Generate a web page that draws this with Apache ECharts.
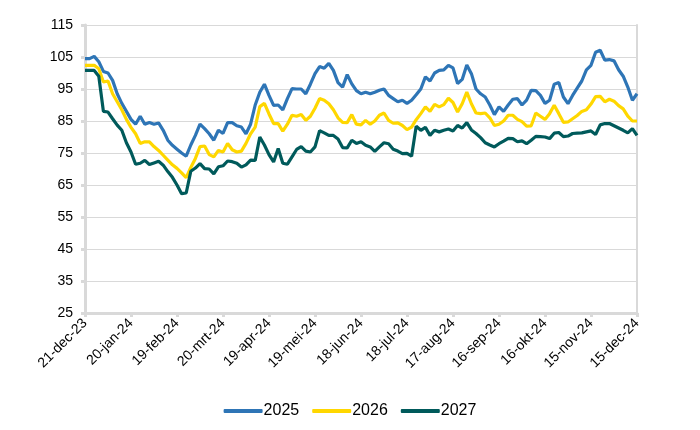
<!DOCTYPE html>
<html>
<head>
<meta charset="utf-8">
<script src="https://cdn.jsdelivr.net/npm/echarts@6/dist/echarts.min.js"></script>
<style>
html,body{margin:0;padding:0;background:#fff;}
#chart{width:700px;height:430px;}
</style>
</head>
<body>
<div id="chart"></div>
<script>
// Day offsets from 21-dec-2023 (sampling grid, every 3 days)
const startDate = Date.UTC(2023, 11, 21);
const dayOffsets = Array.from({length: 121}, (_, i) => i * 3);
const monthNames = ['jan','feb','mrt','apr','mei','jun','jul','aug','sep','okt','nov','dec'];
const seriesNames = ['2025', '2026', '2027'];

const values2025 = [
  104.5, 104.5, 105.2, 103.5, 100.5, 100, 97.7, 93.5, 90.5, 88,
  85.5, 84, 86.5, 84, 84.5, 84, 84.4, 82.1, 79, 77.4,
  76.2, 75, 74, 77.5, 80.5, 84, 82.6, 81, 79, 82.1,
  81.1, 84.5, 84.5, 83.5, 83.1, 81, 84, 90, 94, 96.5,
  93, 89.9, 90, 88.5, 92, 95.1, 95, 95, 93.5, 96.5,
  99.8, 102, 101.5, 103, 100.8, 97, 95.6, 99.5, 96.6, 94.5,
  93.5, 94, 93.5, 94, 94.6, 95, 93, 92, 91, 91.5,
  90.5, 91.5, 93.2, 95, 98.8, 97.5, 100, 100.8, 101, 102.4,
  101.6, 96.7, 98, 102.5, 99.8, 95, 93.5, 92.5, 90, 87,
  89.4, 88, 90, 91.8, 92, 90, 91.5, 94.6, 94.5, 93,
  90.5, 91.5, 96.5, 97, 92.5, 90.4, 93, 95.3, 97.5, 101,
  102.4, 106.5, 107.1, 104, 104.2, 103.8, 101, 99, 95.6, 91.5,
  93.5
];
const values2026 = [
  102.4, 102.4, 102.4, 101.3, 97.2, 97.5, 93.5, 91, 88.5, 85.5,
  83, 81, 78, 78.5, 78.5, 77, 75.8, 74.3, 72.8, 71.3,
  70.2, 68.8, 67.3, 70.5, 73.3, 77, 77.2, 74.5, 73.8, 75.8,
  75.3, 78, 76, 75.3, 75.6, 78, 81, 83.1, 89.5, 90.5,
  87.2, 84.2, 84.2, 81.8, 84, 86.8, 86.5, 87, 85.2, 86.5,
  89, 92, 91.5, 90.4, 88.5, 86, 84.6, 84.5, 87, 84,
  83.8, 85.2, 84, 85, 86.8, 87.5, 85.2, 84.3, 84.4, 83.6,
  82.3, 83.1, 85.4, 87.3, 89.4, 88, 90.2, 89.4, 90.1, 92.1,
  90.8, 87.8, 90.4, 94, 90.4, 87.5, 87.3, 87.5, 86, 83.6,
  84, 85, 86.8, 86.8, 85.5, 84.8, 83.4, 83.5, 87.5, 86.5,
  85.5, 87.3, 89.9, 87.3, 84.6, 84.7, 85.7, 86.7, 88, 88.5,
  90.3, 92.6, 92.7, 91, 91.8, 91.2, 89.8, 88.8, 86.5, 85,
  85
];
const values2027 = [
  100.8, 100.8, 100.8, 99, 88, 87.8, 85.7, 83.7, 82.1, 78.2,
  75.3, 71.5, 71.8, 72.7, 71.4, 71.9, 72.4, 71.2, 69.2, 67.4,
  65, 62.3, 62.5, 69.3, 70.3, 71.7, 70.1, 70, 68.5, 70.7,
  71, 72.5, 72.3, 71.8, 70.6, 71.3, 72.8, 72.7, 80, 77.5,
  74.5, 72.2, 76.4, 71.8, 71.5, 73.8, 76.1, 77, 75.6, 75.3,
  76.9, 82, 81.3, 80.5, 80.5, 79.4, 76.7, 76.6, 79, 78,
  78.5, 77.4, 76.9, 75.5, 76.9, 78.2, 77.9, 76.2, 75.6, 74.8,
  74.9, 74, 83.4, 82.1, 83, 80.5, 82.1, 81.6, 82.1, 82.5,
  81.9, 83.6, 82.8, 84.5, 82.2, 81.1, 79.8, 78.2, 77.5, 76.9,
  77.9, 78.7, 79.6, 79.5, 78.5, 78.8, 77.9, 79, 80.2, 80.1,
  80, 79.5, 81.2, 81.4, 80.1, 80.3, 81.1, 81.2, 81.3, 81.6,
  81.9, 80.8, 83.8, 84.2, 84.2, 83.5, 82.8, 82.1, 81.3, 82.6,
  80.5
];
const colors = ['#2E75B6', '#FFD700', '#005A5B'];

function fmtDate(offset) {
  const d = new Date(startDate + offset * 86400000);
  const yy = String(d.getUTCFullYear()).slice(2);
  return d.getUTCDate() + '-' + monthNames[d.getUTCMonth()] + '-' + yy;
}
function pairs(vals) { return vals.map((v, i) => [dayOffsets[i], v]); }

const chart = echarts.init(document.getElementById('chart'), null, {renderer: 'canvas'});
const gridColor = '#D9D9D9';
const font = 'Liberation Sans, Arial, sans-serif';
chart.setOption({
  animation: false,
  color: colors,
  grid: {left: 85, right: 63, top: 25, bottom: 117, containLabel: false},
  legend: {
    data: seriesNames,
    top: 398,
    left: 'center',
    icon: 'roundRect',
    itemWidth: 39,
    itemHeight: 4,
    itemGap: 13,
    textStyle: {fontSize: 16, color: '#000', fontFamily: font, padding: [0, 0, 0, -4]}
  },
  xAxis: {
    type: 'value',
    min: 0, max: 360, interval: 30,
    axisLine: {show: true, lineStyle: {color: gridColor, width: 3}},
    axisTick: {show: true, length: 4, lineStyle: {color: gridColor, width: 3}},
    splitLine: {show: false},
    axisLabel: {
      rotate: 45, fontSize: 14, color: '#000', fontFamily: font, margin: 8,
      formatter: v => fmtDate(v)
    }
  },
  yAxis: [{
    type: 'value',
    min: 25, max: 115, interval: 10,
    axisLine: {show: true, lineStyle: {color: gridColor, width: 3}},
    axisTick: {show: true, length: 4, lineStyle: {color: gridColor, width: 3}},
    splitLine: {show: true, lineStyle: {color: gridColor, width: 1}},
    axisLabel: {fontSize: 14, color: '#000', fontFamily: font, margin: 12}
  }, {
    type: 'value',
    position: 'right',
    min: 25, max: 115, interval: 10,
    axisLine: {show: true, lineStyle: {color: gridColor, width: 2}},
    axisTick: {show: false},
    splitLine: {show: false},
    axisLabel: {show: false}
  }],
  series: [
    {name: seriesNames[0], type: 'line', data: pairs(values2025), showSymbol: false, symbol: 'none', lineStyle: {width: 3.2}},
    {name: seriesNames[1], type: 'line', data: pairs(values2026), showSymbol: false, symbol: 'none', lineStyle: {width: 3.2}},
    {name: seriesNames[2], type: 'line', data: pairs(values2027), showSymbol: false, symbol: 'none', lineStyle: {width: 3.2}}
  ]
});
</script>
</body>
</html>
